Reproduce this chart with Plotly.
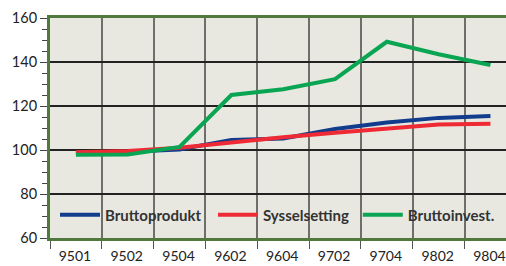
import plotly.graph_objects as go

categories = ["9501", "9502", "9504", "9602", "9604", "9702", "9704", "9802", "9804"]
bruttoprodukt = [99.0, 99.2, 100.2, 104.6, 105.2, 109.5, 112.5, 114.6, 115.5]
sysselsetting = [99.0, 99.6, 101.0, 103.5, 105.8, 107.8, 109.7, 111.6, 111.9]
bruttoinvest = [97.8, 98.0, 101.4, 125.0, 127.6, 132.2, 149.2, 143.5, 138.6]

series_names = ["Bruttoprodukt", "Sysselsetting", "Bruttoinvest."]
series_values = [bruttoprodukt, sysselsetting, bruttoinvest]
series_colors = ["#123c8c", "#ee2a35", "#0aa552"]
legend_ids = ["legend", "legend2", "legend3"]
legend_x = [0.011, 0.3575, 0.675]

x = list(range(len(categories)))

fig = go.Figure()
for name, vals, col, lg in zip(series_names, series_values, series_colors, legend_ids):
    fig.add_trace(go.Scatter(x=x, y=vals, name=name, mode="lines", legend=lg,
                             line=dict(color=col, width=4)))

legend_style = dict(orientation="h", y=0.105, xanchor="left", yanchor="middle",
                    bgcolor="rgba(0,0,0,0)",
                    font=dict(family="Lato", size=15, color="#333333", weight="bold"),
                    itemwidth=40)

fig.update_layout(
    width=506, height=266,
    margin=dict(l=50, r=0, t=18, b=28, autoexpand=False),
    paper_bgcolor="white",
    plot_bgcolor="#e8e8e1",
    showlegend=True,
    legend=dict(x=legend_x[0], **legend_style),
    legend2=dict(x=legend_x[1], **legend_style),
    legend3=dict(x=legend_x[2], **legend_style),
    font=dict(family="Lato", size=14.5, color="#222222"),
)

fig.update_xaxes(
    range=[-0.5, 8.3], automargin=False,
    tickmode="array", tickvals=x, ticktext=categories,
    ticks="outside", ticklen=3, tickcolor="rgba(0,0,0,0)",
    ticklabeloverflow="allow", ticklabelshift=-1,
    tickfont=dict(size=14),
    showgrid=False, zeroline=False,
    showline=True, linecolor="#4f7a3c", linewidth=3, mirror=True,
    minor=dict(tickmode="linear", tick0=-0.5, dtick=1, showgrid=True,
               gridcolor="#6e6e6a", gridwidth=2,
               ticks="outside", ticklen=8, tickcolor="#555555", tickwidth=1),
)
fig.update_yaxes(
    range=[60, 160], dtick=20, tick0=60, automargin=False,
    ticks="outside", ticklen=7, tickcolor="#444444", tickwidth=1,
    showgrid=True, gridcolor="#222222", gridwidth=1.5,
    zeroline=False,
    showline=True, linecolor="#4f7a3c", linewidth=3, mirror=False,
    minor=dict(dtick=5, ticks="outside", ticklen=5, tickcolor="#444444", showgrid=False),
)

fig.write_html("out.html", config={"displayModeBar": False},
               post_script="document.body.style.margin='0';")
